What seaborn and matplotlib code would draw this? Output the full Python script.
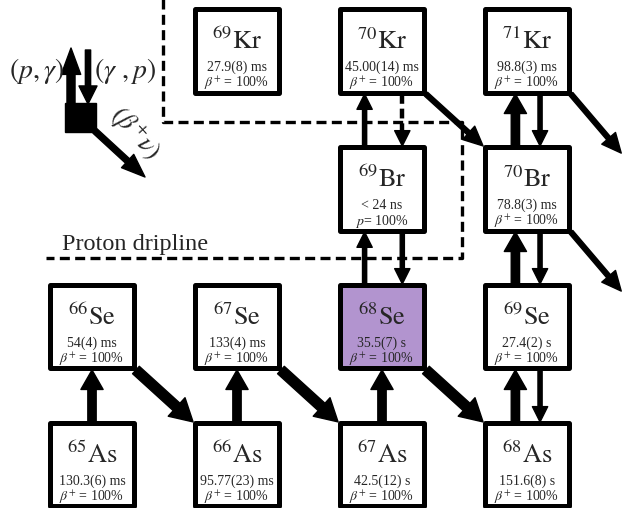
import re
import numpy as np
import pandas as pd
import matplotlib
matplotlib.use("Agg")
import matplotlib.pyplot as plt
from matplotlib.patches import FancyArrowPatch, ArrowStyle, Rectangle
import seaborn as sns

# nuclides shown on the chart
element = ["As", "As", "As", "As", "Se", "Se", "Se", "Se", "Br", "Br", "Kr", "Kr", "Kr"]
mass = [65, 66, 67, 68, 66, 67, 68, 69, 69, 70, 69, 70, 71]
half_life = ["130.3(6) ms", "95.77(23) ms", "42.5(12) s", "151.6(8) s",
             "54(4) ms", "133(4) ms", "35.5(7) s", "27.4(2) s",
             "< 24 ns", "78.8(3) ms",
             "27.9(8) ms", "45.00(14) ms", "98.8(3) ms"]
decay_mode = ["b", "b", "b", "b", "b", "b", "b", "b", "p", "b", "b", "b", "b"]
highlight = ["68Se"]

# reaction flows (from, to)
pg_strong = [("65As", "66Se"), ("66As", "67Se"), ("67As", "68Se"),
             ("68As", "69Se"), ("69Se", "70Br"), ("70Br", "71Kr")]
pg_weak = [("68Se", "69Br"), ("69Br", "70Kr")]
down_weak = [("69Br", "68Se"), ("69Se", "68As"), ("70Br", "69Se"), ("71Kr", "70Br")]
down_dashed = [("70Kr", "69Br")]
beta_strong = [("66Se", "66As"), ("67Se", "67As"), ("68Se", "68As")]
beta_weak = [("70Kr", "70Br"), ("71Kr", "71Br"), ("70Br", "70Se")]

# proton dripline path (N, Z)
drip_N = [32.49, 32.49, 34.55, 34.55, 31.68]
drip_Z = [36.5, 35.485, 35.485, 34.5, 34.5]

Z_of = {"As": 33, "Se": 34, "Br": 35, "Kr": 36}


def nz(name):
    m = re.match(r"(\d+)([A-Za-z]+)", name)
    a, el = int(m.group(1)), m.group(2)
    z = Z_of[el]
    return a - z, z


df = pd.DataFrame({"element": element, "A": mass, "half_life": half_life, "mode": decay_mode})
df["Z"] = df["element"].map(Z_of)
df["N"] = df["A"] - df["Z"]
df["name"] = df["A"].astype(str) + df["element"]
df["kind"] = np.where(df["name"].isin(highlight), "hi", "lo")

sns.set_theme(style="white")
plt.rcParams["font.family"] = ["Liberation Serif", "DejaVu Serif"]
plt.rcParams["mathtext.fontset"] = "stix"

fig = plt.figure(figsize=(6.24, 5.08), dpi=100)
ax = fig.add_axes([0, 0, 1, 1])
ax.set_xlim(31.3655, 35.669)
ax.set_ylim(32.688, 36.3696)
ax.set_axis_off()

hw, hh = 0.303, 0.312

sns.scatterplot(data=df, x="N", y="Z", hue="kind", palette={"hi": "#b294cf", "lo": "white"},
                marker="s", s=3575, edgecolor="black", linewidth=3.6, legend=False,
                ax=ax, zorder=3)

for _, r in df.iterrows():
    ax.text(r["N"], r["Z"] + 0.072, r"$^{%d}\mathrm{%s}$" % (r["A"], r["element"]),
            ha="center", va="center", fontsize=19, zorder=4)
    ax.text(r["N"], r["Z"] - 0.118, r["half_life"], ha="center", va="center",
            fontsize=10, zorder=4)
    lab = r"$\beta^{+}$ = 100%" if r["mode"] == "b" else r"$p$= 100%"
    ax.text(r["N"], r["Z"] - 0.235, lab, ha="center", va="center", fontsize=10, zorder=4)

thick = ArrowStyle.Simple(head_length=14, head_width=16, tail_width=6)
thick_b = ArrowStyle.Simple(head_length=16, head_width=18, tail_width=7.2)
thin = ArrowStyle.Simple(head_length=11, head_width=11, tail_width=3)
thin_b = ArrowStyle.Simple(head_length=14, head_width=13, tail_width=3.5)


def draw(p0, p1, style, trans=None):
    kw = dict(arrowstyle=style, color="black", shrinkA=0, shrinkB=0,
              mutation_scale=1, zorder=2, clip_on=False)
    if trans is not None:
        kw["transform"] = trans
    ax.add_patch(FancyArrowPatch(p0, p1, **kw))


def has_down(a, b):
    return (b, a) in down_weak + down_dashed


for flows, style, off in [(pg_strong, thick, 0.08), (pg_weak, thin, 0.12)]:
    for a, b in flows:
        n0, z0 = nz(a)
        dx = -off if has_down(a, b) else 0.0
        draw((n0 + dx, z0 + hh), (n0 + dx, z0 + 1 - hh), style)

for a, b in down_weak + down_dashed:
    n0, z0 = nz(a)
    strong = (b, a) in pg_strong
    dx = 0.09 if strong else 0.14
    if (a, b) in down_dashed:
        ax.plot([n0 + dx, n0 + dx], [z0 - hh, z0 - 1 + hh + 0.07], color="black",
                lw=3.2, dashes=(2.2, 1.1), solid_capstyle="butt", zorder=2)
        draw((n0 + dx, z0 - 1 + hh + 0.09), (n0 + dx, z0 - 1 + hh), thin)
    else:
        draw((n0 + dx, z0 - hh), (n0 + dx, z0 - 1 + hh), thin)

names = list(df["name"])
for flows, style in [(beta_strong, thick_b), (beta_weak, thin_b)]:
    for a, b in flows:
        n0, z0 = nz(a)
        n1, z1 = nz(b)
        if b in names:
            end = (n1 - hw, z1 + hh)
        else:
            # runs off the right edge of the chart
            end = (n1 - 0.35, z1 + 0.26)
        draw((n0 + hw, z0 - hh), end, style)

# proton dripline
ax.plot(drip_N, drip_Z, color="black", lw=2.4, dashes=(3, 1.6), zorder=1)
ax.text(62 / 624, 1 - 250 / 508, "Proton dripline", transform=ax.transAxes,
        ha="left", va="baseline", fontsize=17.5)

# legend sketch
T = ax.transAxes


def fr(x, y):
    return (x / 624, 1 - y / 508)


ax.add_patch(Rectangle(fr(65, 132), 31 / 624, 29 / 508, transform=T, color="black", zorder=3))
draw(fr(71, 104), fr(71, 48), ArrowStyle.Simple(head_length=19, head_width=14, tail_width=5.8), trans=T)
draw(fr(88, 50), fr(88, 104), ArrowStyle.Simple(head_length=13, head_width=13, tail_width=3.8), trans=T)
draw(fr(95, 131), fr(145, 177), ArrowStyle.Simple(head_length=17, head_width=13, tail_width=4.3), trans=T)
ax.text(*fr(64, 71), r"$(p,\gamma)$", transform=T, ha="right", va="center", fontsize=20)
ax.text(*fr(94, 71), r"$(\gamma\ ,p)$", transform=T, ha="left", va="center", fontsize=20)
ax.text(*fr(135, 134), r"$(\beta^{+}\nu)$", transform=T, ha="center", va="center",
        fontsize=19, rotation=-48)

fig.savefig("out.png", dpi=100)
